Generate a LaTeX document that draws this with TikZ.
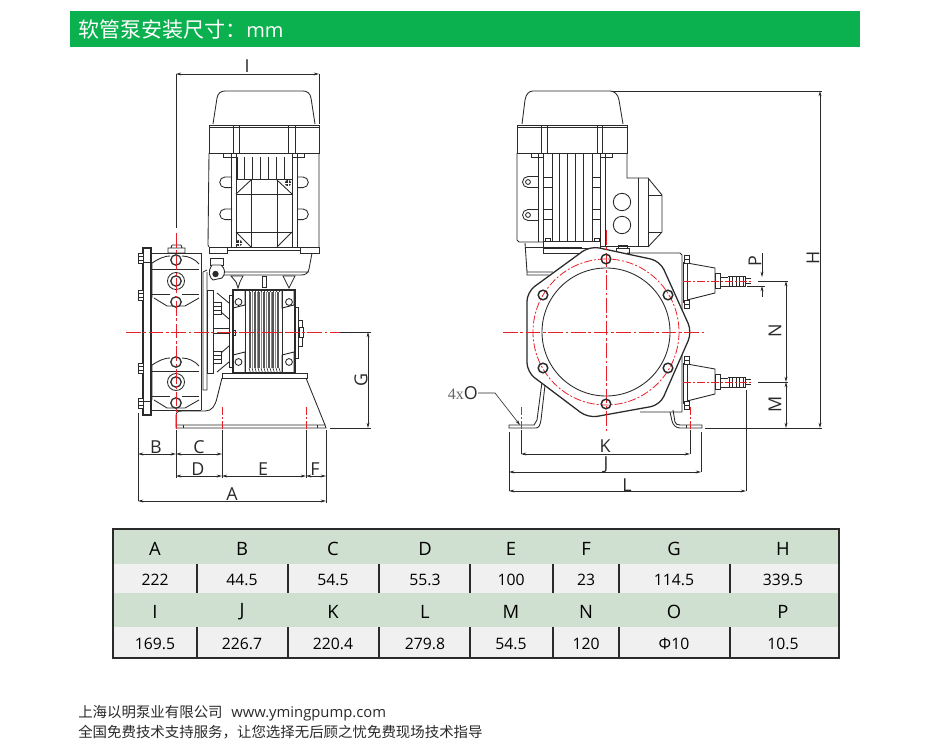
\documentclass[tikz,border=0pt]{standalone}
\usepackage{fontspec}
\setmainfont{Open Sans}
\newfontfamily\cjkf{Noto Sans CJK SC}
\newfontfamily\serf{Liberation Serif}
\usetikzlibrary{arrows.meta}
\definecolor{hdrgreen}{HTML}{0BB04F}
\definecolor{rowgreen}{HTML}{D0E0D0}
\definecolor{rowgray}{HTML}{F0F0F0}
\definecolor{ink}{HTML}{2A2A2A}
\definecolor{redc}{HTML}{E8202A}
\tikzset{
 ln/.style={line width=0.65pt,draw=ink},
 hv/.style={line width=0.95pt,draw=ink},
 thn/.style={line width=0.45pt,draw=ink},
 cl/.style={line width=0.6pt,draw=redc,dash pattern=on 11pt off 2pt on 2pt off 2pt},
 clr/.style={line width=0.6pt,draw=redc,dash pattern=on 6pt off 1.5pt on 1.5pt off 1.5pt},
 dimn/.style={line width=0.5pt,draw=ink,{Stealth[length=4pt,width=2.2pt]}-{Stealth[length=4pt,width=2.2pt]}},
 ext/.style={line width=0.45pt,draw=ink},
 lab/.style={font=\fontsize{13.4pt}{14pt}\selectfont,text=ink,inner sep=0pt},
 hd/.style={font=\fontsize{13.8pt}{15pt}\selectfont,text=black,inner sep=0pt},
 val/.style={font=\fontsize{11.8pt}{13pt}\selectfont,text=black,inner sep=0pt},
 foot/.style={font=\fontsize{10.83pt}{12pt}\selectfont,text=ink,inner sep=0pt,anchor=west},
}
\begin{document}
\begin{tikzpicture}[x=0.75pt,y=-0.75pt]
\useasboundingbox (0,0) rectangle (949,756);
\fill[white] (0,0) rectangle (949,756);
% header
\fill[hdrgreen] (70,11) rectangle (860,47);
\node[anchor=west,inner sep=0pt,text=white,font=\fontsize{15.75pt}{17pt}\selectfont] (title) at (78,29.5) {\cjkf 软管泵安装尺寸：\fontspec{Open Sans}\fontsize{15pt}{17pt}\selectfont mm};

%%%%%%%%%%%% LEFT VIEW : motor
\draw[ln] (213,124) -- (217,98) .. controls (218,93) and (221,91) .. (225,91) -- (303,91) .. controls (307,91) and (310,93) .. (311,98) -- (315,124);
\draw[ln] (209,125) rectangle (319,153);
\draw[ln] (209,127) -- (319,127);
\foreach \x in {233,239,288,295} \draw[ln] (\x,125) -- (\x,153);
\draw[ln] (209,153) -- (208,245) -- (209,247) (319,153) -- (319,247);
\draw[ln] (231,153) -- (231,247) (297,153) -- (297,247);
\draw[ln] (223,153) rectangle (236,157) (292,153) rectangle (304,157);
\foreach \x in {237,244,252,260,268,276,284,292} \draw[ln] (\x,157) -- (\x,179);
\draw[ln] (236,157) -- (236,247) (292,157) -- (292,247) (236,179) -- (292,179);
\draw[ln] (236,194) -- (292,194) (236,232) -- (292,232);
\draw[ln] (251,179) -- (251,247) (277,179) -- (277,247);
\draw[ln] (236,194) -- (251,180) (277,180) -- (292,194) (236,232) -- (251,247) (277,247) -- (292,232);
\foreach \y in {177,209}{
 \draw[ln] (232,\y) -- (225,\y) arc[start angle=270,end angle=90,radius=5.3] -- (232,\y+10.6);
 \draw[ln] (297,\y) -- (303,\y) arc[start angle=270,end angle=450,radius=5.3] -- (297,\y+10.6);
}
\fill[ink] (288,183) circle (3.2) (239,243) circle (3.2);
\draw[white,line width=0.4pt] (285,183) -- (291,183) (288,180) -- (288,186) (236,243) -- (242,243) (239,240) -- (239,246);
\draw[ln] (209,247) rectangle (227,253) (300,247) rectangle (319,253) (227,247) -- (300,247);
\draw[ln] (227,250) -- (300,250);
\draw[ln] (312,253) -- (309,269) .. controls (308,273) and (306,275) .. (301,275) -- (222,275) (222,272) -- (309,272);
% coupling piece
\draw[ln] (210,258) rectangle (223,265);
\draw[ln,fill=white] (212,265) -- (221,265) .. controls (225,268) and (226,274) .. (222,278) -- (213,280) .. controls (210,278) and (207,272) .. (212,265) -- cycle;
\fill[ink] (215.5,274) circle (3.2);
% connection below flange
\draw[ln] (231,276) -- (243,276) -- (240,282) -- (238,288) -- (236,282) -- cycle;
\draw[ln] (283,276) -- (295,276) -- (292,282) -- (289,288) -- (286,282) -- cycle;
\draw[ln] (262,276) rectangle (266,287);

%%%%%%%%%%%% LEFT VIEW : pump
\draw[hv] (143,248) rectangle (151,415);
\draw[ln] (143,262) -- (151,262) (143,401) -- (151,401);
\foreach \y in {258,295,368,403} {\draw[ln,fill=white] (138,\y-5) rectangle (143,\y+5); \draw[thn] (138,\y-2) -- (143,\y-2) (138,\y+2) -- (143,\y+2);}
\draw[ln] (151,253) -- (201,253) (151,410) -- (201,410);
\draw[ln] (168,248) rectangle (185,253) (172,245) -- (181,245) -- (182,248) (172,245) -- (171,248);
\draw[ln] (201,253) -- (201,410);
% heads
\draw[ln] (152,263) -- (152,298) (152,263) .. controls (160,258) and (165,256) .. (170,256) (182,256) .. controls (188,256) and (195,259) .. (199,264);
\draw[ln] (152,269) -- (199,269) (152,294) -- (170,294) (182,294) -- (199,294);
\draw[ln] (154,298) -- (167,306) -- (185,306) -- (199,298);
\draw[ln] (152,365) -- (152,400) (152,365) .. controls (160,360) and (165,358) .. (170,358) (182,358) .. controls (188,358) and (195,361) .. (199,366);
\draw[ln] (152,371) -- (199,371) (152,396) -- (170,396) (182,396) -- (199,396);
\draw[ln] (154,400) -- (167,408) -- (185,408) -- (199,400);
\foreach \y in {260,302,362,403} {\draw[hv,fill=white] (176,\y) circle (5.2);}
\foreach \y in {281,382} {\draw[ln,fill=white] (176,\y) circle (8.5); \draw[hv] (176,\y) circle (5.2);}
% gear side
\draw[ln] (203,272) -- (203,390) -- (207,390) (207,272) -- (207,390) (203,272) -- (207,270);
\draw[ln] (207,290) rectangle (213,373);
\foreach \y in {308,357} {\draw[ln,fill=white] (213,\y-6) rectangle (221,\y+6); \draw[ln] (213,\y-2) -- (221,\y-2) (213,\y+2) -- (221,\y+2);}
\draw[ln] (217,293) -- (229,303) (221,312) -- (229,319) (217,372) -- (229,362) (221,353) -- (229,346);
\draw[ln] (213,328) -- (230,328) (213,333) -- (230,333);
\draw[ln] (229,295) rectangle (233,367);
\draw[ln] (233,330) rectangle (235,335);
% central block
\draw[hv] (233,290) rectangle (295,373);
\foreach \x/\c in {233/238.5,282/289}{
 \draw[ln] (\x,290) -- (\x,308) -- (\x+12,305) -- (\x+12,290);
 \draw[ln] (\x,355) -- (\x,373) -- (\x+12,373) -- (\x+12,352) -- cycle;
 \draw[ln] (\c,302) circle (3.4) (\c,362) circle (3.4);
}
\draw[ln] (245,290) -- (245,373) (282,290) -- (282,373);
\foreach \x in {250,255,259,264,269,273,278} {\draw[line width=1.2pt,draw=ink!80] (\x,292) -- (\x,368);}
\foreach \x in {252.5,257,261.5,266.5,271,275.5} {\draw[thn,draw=ink!55] (\x,292) -- (\x,368);}
\foreach \x in {249,252,...,279} {\draw[thn] (\x,368) -- (\x+1.5,373) (\x,292) -- (\x+1.5,290);}
\draw[ln] (295,307) rectangle (298,358) (298,320) rectangle (302,346);
\draw[ln,fill=white] (299,327) rectangle (303,337);
% base
\draw[ln] (222,373) rectangle (307,378);
\draw[ln] (222,378) -- (217,398) .. controls (215,406) and (212,411) .. (205,411) -- (182,411) .. controls (178,411) and (176,412) .. (176,416) -- (176,425);
\draw[ln] (306,378) -- (325,425);
\draw[ln] (176,425) -- (325,425) -- (326,428) -- (176,428) -- cycle;
\draw[thn] (183,425) -- (183,428) (317,425) -- (317,428);

% centre lines, left view
\draw[cl] (126,332) -- (340,332);
\draw[cl] (176,233) -- (176,430);
\draw[clr] (222,407) -- (222,430) (306,407) -- (306,430);

%%%%%%%%%%%% RIGHT VIEW : motor
\draw[ln] (522,124) -- (525,100) .. controls (526,94) and (529,91) .. (533,91) -- (610,91) .. controls (614,91) and (618,94) .. (619,100) -- (623,124);
\draw[ln] (517,125) rectangle (627,153);
\draw[ln] (517,127) -- (627,127);
\foreach \x in {541,547,597,602} \draw[ln] (\x,125) -- (\x,153);
\draw[ln] (517,153) -- (517,240) -- (519,242) -- (543,242);
\draw[ln] (627,153) -- (627,178) -- (648,178) -- (662,195) -- (662,232) -- (648,247);
\draw[ln] (638,178) -- (638,246) (648,178) -- (648,247) (648,195) -- (662,195) (648,232) -- (662,232);
\draw[ln] (600,246) -- (648,246);
\draw[ln] (538,153) -- (538,242) (605,153) -- (605,246);
\draw[ln] (531,153) rectangle (543,157) (600,153) rectangle (612,157);
\foreach \x in {543,552,559,567,575,583,592,600} \draw[ln] (\x,153) -- (\x,241);
\foreach \y in {177,209}{ \draw[ln] (543,\y) rectangle (552,\y+10.5) (592,\y) rectangle (600,\y+10.5); }
\draw[ln] (543,241) rectangle (600,253) (543,248) -- (600,248);
\draw[ln] (545,238) rectangle (550,241) (594,238) rectangle (599,241);
\foreach \y in {182,215}{
 \draw[ln] (538,\y-5.5) -- (528,\y-5.5) arc[start angle=270,end angle=90,radius=5.5] -- (538,\y+5.5);
 \draw[ln] (528,\y) circle (2.4);
}
\draw[ln] (622,202) circle (8.7) (622,225) circle (8.7);
\draw[ln] (525,243) -- (527,272) -- (553,272) (527,272) -- (527,275) -- (549,275);
\draw[ln] (525,247) -- (582,247);
\draw[ln] (616,248) rectangle (629,253) (618,245) rectangle (627,248);

%%%%%%%%%%%% RIGHT VIEW : pump housing
\draw[ln] (627,253) -- (680,253) -- (682,255) -- (682,412) -- (640,412);
\draw[ln] (673,410) -- (675,422) .. controls (676,424) and (677,425) .. (680,425) -- (702,425) -- (702,428) -- (680,428) .. controls (676,428) and (673,425) .. (672,421) -- (670,412);
\draw[ln] (542,382) -- (537,420) -- (534,425) -- (509,425) -- (509,428) -- (536,428) .. controls (539,428) and (540,425) .. (541,420) -- (545,385);
\draw[thn] (686,425) -- (686,428) (521,425) -- (521,428);
\draw[hv,fill=white,rounded corners=7pt] (590,246) -- (660,261) -- (692,332) -- (660,405) -- (588,418) -- (527,372) -- (527,292) -- cycle;
\draw[ln] (606,332) circle (64);
\draw[clr] (606,332) circle (73);
\draw[cl] (503,332) -- (707,332);
\draw[cl] (606,230) -- (606,433);
\foreach \x/\y in {606/259,543/295,668/295,543/368,668/368,606/404} {\draw[line width=1.1pt,draw=ink] (\x,\y) circle (4.8);}
% ports
\foreach \yc in {281,382}{
 \draw[ln] (683,\yc-19) rectangle (687,\yc+21);
 \draw[ln] (687,\yc-18) -- (715,\yc-13) -- (715,\yc+12) -- (687,\yc+19);
 \draw[ln] (715,\yc-8) rectangle (720,\yc+7);
 \draw[ln] (720,\yc-4) -- (728,\yc-4) (720,\yc+5) -- (728,\yc+5);
 \draw[ln] (728,\yc-4.5) -- (745,\yc-4.5) -- (745,\yc+5) -- (728,\yc+5);
 \foreach \x in {729,732.5,736,739.5,743} {\draw[thn] (\x,\yc-4.5) -- (\x,\yc+5);}
 \draw[ln] (745,\yc-2.5) -- (751,\yc-2.5) (745,\yc+2.5) -- (751,\yc+2.5);
 \draw[ln,fill=white] (684,\yc-26) rectangle (689,\yc-18);
 \draw[ln,fill=white] (684,\yc+19) rectangle (689,\yc+27);
 \draw[thn] (684,\yc-22) -- (689,\yc-22) (684,\yc+23) -- (689,\yc+23);
 \draw[clr] (683,\yc) -- (753,\yc);
}
\draw[clr] (521,407) -- (521,430) (690,407) -- (690,430);

%%%%%%%%%%%% Dimensions, left view
\coordinate (iA) at (176,74); \coordinate (iB) at (319,74);
\coordinate (iA0) at (176,228); \coordinate (iB0) at (319,124);
\draw[ext] (iA0) -- (iA) (iB0) -- (iB);
\draw[dimn] (iA) -- (iB);
\node[lab] (lI) at (247,66) {I};
\coordinate (gA) at (368,332); \coordinate (gB) at (368,428);
\coordinate (gA0) at (340,332); \coordinate (gB0) at (330,428);
\draw[ext] (gA0) -- (371,332) (gB0) -- (371,428);
\draw[dimn] (gA) -- (gB);
\node[lab,rotate=90] (lG) at (361,380) {G};
\coordinate (x1) at (138,454); \coordinate (x2) at (176,454); \coordinate (x3) at (222,454);
\draw[dimn] (x1) -- (x2); \draw[dimn] (x2) -- (x3);
\coordinate (y1) at (176,476); \coordinate (y2) at (222,476); \coordinate (y3) at (306,476); \coordinate (y4) at (326,476);
\draw[dimn] (y1) -- (y2); \draw[dimn] (y2) -- (y3); \draw[dimn] (y3) -- (y4);
\coordinate (z1) at (138,501); \coordinate (z2) at (326,501);
\draw[dimn] (z1) -- (z2);
\draw[ext] (138,413) -- (z1) (176,430) -- (176,478) (222,430) -- (222,478) (306,430) -- (306,478) (326,430) -- (326,503);
\node[lab] (lB) at (156,447) {B};
\node[lab] (lC) at (199,447) {C};
\node[lab] (lD) at (198,469) {D};
\node[lab] (lE) at (263,469) {E};
\node[lab] (lF) at (315,469) {F};
\node[lab] (lA) at (232,494) {A};

%%%%%%%%%%%% Dimensions, right view
\coordinate (kA) at (521,454); \coordinate (kB) at (690,454);
\draw[dimn] (kA) -- (kB);
\coordinate (jA) at (509,472); \coordinate (jB) at (701,472);
\draw[dimn] (jA) -- (jB);
\coordinate (mA) at (509,491); \coordinate (mB) at (746,491);
\draw[dimn] (mA) -- (mB);
\draw[ext] (521,430) -- (kA) (690,430) -- (kB) (509,432) -- (mA) (701,432) -- (jB) (746,390) -- (mB);
\node[lab] (lK) at (605,446) {K};
\node[lab] (lJ) at (606,465) {J};
\node[lab] (lL) at (627,485) {L};
\coordinate (nA) at (786,281); \coordinate (nB) at (786,382); \coordinate (nC) at (786,428);
\draw[dimn] (nA) -- (nB); \draw[dimn] (nB) -- (nC);
\coordinate (hA) at (820,91); \coordinate (hB) at (820,428);
\draw[dimn] (hA) -- (hB);
\draw[ext] (613,91) -- (822,91) (705,428) -- (822,428) (758,281) -- (788,281) (747,286) -- (765,286);
\draw[line width=0.7pt,draw=ink] (758,382) -- (788,382);
\coordinate (pA) at (762,277); \coordinate (pB) at (762,286);
\draw[ext,-{Stealth[length=4pt,width=2.2pt]}] (762,253) -- (pA);
\draw[ext,-{Stealth[length=4pt,width=2.2pt]}] (762,297) -- (pB);
\node[lab,rotate=90] (lP) at (755,261) {P};
\node[lab,rotate=90] (lN) at (775,331) {N};
\node[lab,rotate=90] (lM) at (775,404) {M};
\node[lab,rotate=90] (lH) at (813,258) {H};
\node[lab,anchor=east] (lO) at (478,393) {\textcolor{black!60}{\serf\fontsize{12pt}{13pt}\selectfont 4x}O};
\coordinate (oA) at (495,393); \coordinate (oB) at (520,425);
\draw[ext,-{Stealth[length=4pt,width=2.2pt]}] (lO.east) -- (oA) -- (oB);

%%%%%%%%%%%% Table
\fill[rowgreen] (113,529) rectangle (839,564);
\fill[rowgray] (113,564) rectangle (839,593);
\fill[rowgreen] (113,593) rectangle (839,627);
\fill[rowgray] (113,627) rectangle (839,658);
\foreach \x in {197,288,379,470,553,619,730} {
 \draw[line width=1pt,draw=ink] (\x,564) -- (\x,593) (\x,627) -- (\x,658);
}
\draw[line width=1.2pt,draw=ink] (113,529) rectangle (839,658);
\foreach \n/\x/\a/\b/\c/\d in {
 a/155/A/222/I/169.5,
 b/242/B/44.5/J/226.7,
 c/333/C/54.5/K/220.4,
 d/425/D/55.3/L/279.8,
 e/511/E/100/M/54.5,
 f/586/F/23/N/120,
 g/674/G/114.5/O/Φ10,
 h/783/H/339.5/P/10.5}{
 \node[hd] (t1\n) at (\x,549) {\a};
 \node[val] (t2\n) at (\x,580) {\b};
 \node[hd] (t3\n) at (\x,612) {\c};
 \node[val] (t4\n) at (\x,644) {\d};
}

%%%%%%%%%%%% Footer
\node[foot] (f1) at (78,713) {\cjkf 上海以明泵业有限公司\hspace{6.5pt}\fontspec{Open Sans}\fontsize{11.1pt}{12pt}\selectfont www.ymingpump.com};
\node[foot] (f2) at (78,732) {\cjkf 全国免费技术支持服务，让您选择无后顾之忧免费现场技术指导};
\end{tikzpicture}
\end{document}
